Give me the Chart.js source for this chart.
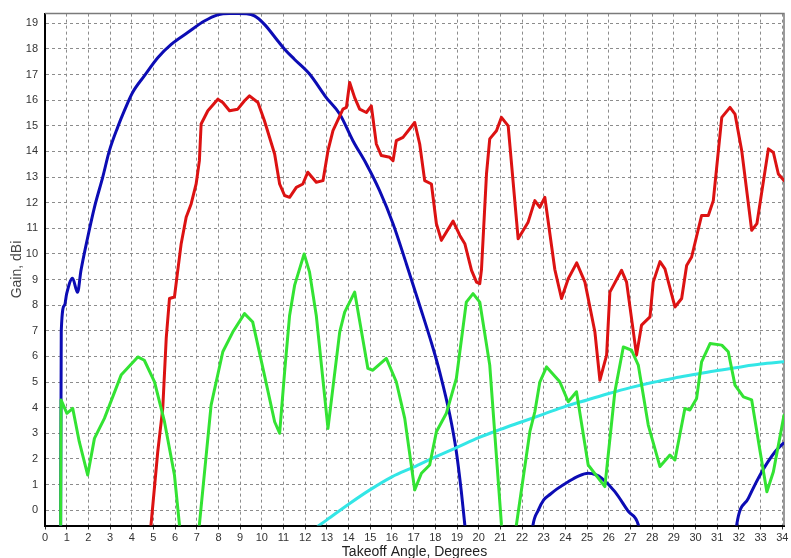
<!DOCTYPE html>
<html>
<head>
<meta charset="utf-8">
<title>Gain vs Takeoff Angle</title>
<script src="https://cdn.jsdelivr.net/npm/chart.js@4.4.1/dist/chart.umd.min.js"></script>
<style>
  html, body { margin: 0; padding: 0; background: #ffffff; }
  #wrap { position: relative; width: 791px; height: 558px; }
</style>
</head>
<body>
<div id="wrap"><canvas id="chart" width="791" height="558"></canvas></div>
<script>
// Elevation-response traces: takeoff angle (degrees) and gain (dBi).
// A null gain breaks the trace where it falls below the plotted range.

const blueAngle = [0.72, 0.75, 0.9, 1.0, 1.27, 1.5, 1.66, 1.97, 2.28, 2.66, 2.97, 3.35, 3.66, 4.04, 4.58, 5.2, 5.82, 6.58, 7.35, 7.97, 8.5, 8.89, 9.3, 9.66, 10.12, 10.74, 11.05, 11.5, 12.2, 12.97, 13.59, 14.2, 14.82, 15.43, 16.05, 16.67, 17.28, 17.9, 18.2, 18.67, 18.97, 19.2, 19.36, 19.42,
  19.5,
  22.45, 22.5, 22.75, 23.0, 23.3, 23.6, 24.13, 24.6, 25.05, 25.4, 25.67, 26.28, 26.9, 27.36, 27.45,
  27.5,
  31.85, 31.9, 32.44, 33.06, 33.67, 34.05];
const blueGain = [-1.0, 7.0, 8.0, 8.45, 9.05, 8.5, 9.36, 10.65, 11.82, 12.99, 14.03, 14.94, 15.59, 16.3, 16.95, 17.66, 18.18, 18.64, 19.09, 19.33, 19.38, 19.38, 19.37, 19.29, 18.96, 18.31, 17.99, 17.6, 17.02, 16.1, 15.46, 14.42, 13.51, 12.47, 11.18, 9.6, 7.99, 6.31, 5.4, 3.71, 2.28, 0.72, -0.57, -1.0,
  null,
  -1.0, -0.6, 0.0, 0.4, 0.62, 0.82, 1.11, 1.33, 1.44, 1.38, 1.25, 0.72, -0.05, -0.57, -1.0,
  null,
  -1.0, -0.57, 0.47, 1.5, 2.28, 2.61];

const redAngle = [4.85, 4.89, 5.2, 5.43, 5.59, 5.74, 5.97, 6.1, 6.28, 6.51, 6.74, 6.97, 7.12, 7.2, 7.51, 7.97, 8.2, 8.51, 8.89, 9.2, 9.43, 9.82, 10.12, 10.59, 10.82, 11.05, 11.28, 11.59, 11.89, 12.12, 12.51, 12.82, 13.05, 13.28, 13.74, 13.9, 14.05, 14.28, 14.51, 14.82, 15.05, 15.28, 15.51, 15.9, 16.05, 16.2, 16.51, 17.05, 17.28, 17.51, 17.82, 18.05, 18.28, 18.82, 19.13, 19.36, 19.67, 19.9, 20.05, 20.13, 20.36, 20.51, 20.82, 21.05, 21.36, 21.82, 22.28, 22.59, 22.82, 23.05, 23.51, 23.82, 24.13, 24.52, 24.9, 25.36, 25.59, 25.9, 26.05, 26.59, 26.82, 27.28, 27.51, 27.9, 28.05, 28.36, 28.59, 29.05, 29.36, 29.59, 29.82, 30.28, 30.59, 30.82, 31.21, 31.59, 31.82, 32.13, 32.59, 32.83, 33.36, 33.59, 33.82, 34.08];
const redGain = [-1.0, -0.57, 2.28, 3.97, 6.7, 8.26, 8.32, 9.2, 10.4, 11.43, 11.95, 12.73, 13.64, 15.07, 15.59, 16.04, 15.91, 15.59, 15.65, 15.98, 16.17, 15.91, 15.2, 13.9, 12.73, 12.28, 12.21, 12.6, 12.73, 13.19, 12.8, 12.86, 14.03, 14.81, 15.65, 15.72, 16.69, 16.1, 15.65, 15.52, 15.78, 14.29, 13.84, 13.77, 13.64, 14.42, 14.55, 15.13, 14.29, 12.86, 12.73, 11.18, 10.53, 11.28, 10.72, 10.4, 9.36, 8.9, 8.84, 9.4, 13.12, 14.49, 14.81, 15.33, 15.0, 10.59, 11.24, 12.08, 11.82, 12.21, 9.4, 8.26, 9.03, 9.65, 8.9, 6.95, 5.07, 6.05, 8.51, 9.36, 8.9, 6.05, 7.22, 7.54, 8.9, 9.7, 9.42, 7.93, 8.26, 9.55, 9.88, 11.5, 11.5, 12.08, 15.33, 15.72, 15.46, 14.03, 10.92, 11.18, 14.1, 13.96, 13.12, 12.86];

const greenAngle = [0.72, 0.74, 1.01, 1.28, 1.58, 1.97, 2.28, 2.74, 3.51, 4.28, 4.58, 5.05, 5.51, 5.97, 6.2, 6.25,
  6.6,
  7.08, 7.12, 7.66, 8.2, 8.66, 9.2, 9.58, 10.12, 10.59, 10.82, 11.05, 11.28, 11.51, 11.95, 12.2, 12.51, 13.05, 13.59, 13.82, 14.28, 14.89, 15.12, 15.74, 16.2, 16.59, 17.05, 17.36, 17.74, 18.05, 18.51, 18.97, 19.43, 19.74, 20.05, 20.51, 21.05, 21.1,
  21.4,
  21.7, 21.74, 22.36, 22.59, 22.82, 23.13, 23.74, 24.13, 24.51, 25.05, 25.82, 26.28, 26.67, 27.05, 27.36, 27.82, 28.36, 28.82, 29.05, 29.51, 29.74, 30.05, 30.28, 30.67, 31.21, 31.51, 31.82, 32.21, 32.59, 32.98, 33.29, 33.59, 34.08];
const greenGain = [-1.0, 4.3, 3.78, 3.97, 2.67, 1.37, 2.8, 3.58, 5.27, 5.98, 5.85, 5.01, 3.45, 1.37, -0.57, -1.0,
  null,
  -1.0, -0.57, 4.1, 6.18, 6.95, 7.67, 7.34, 5.27, 3.45, 3.0, 5.4, 7.6, 8.77, 10.0, 9.29, 7.6, 3.19, 6.95, 7.73, 8.51, 5.53, 5.46, 5.92, 5.01, 3.58, 0.79, 1.44, 1.76, 3.06, 3.78, 5.14, 8.12, 8.45, 8.12, 5.66, -0.57, -1.0,
  null,
  -1.0, -0.57, 3.06, 3.84, 5.0, 5.59, 5.01, 4.23, 4.62, 1.76, 0.92, 4.62, 6.37, 6.24, 5.66, 3.32, 1.7, 2.15, 1.96, 3.97, 3.91, 4.36, 5.79, 6.5, 6.44, 6.18, 4.88, 4.42, 4.3, 2.28, 0.72, 1.5, 3.7];

const cyanAngle = [12.6, 13, 14, 15, 16, 17, 18, 19, 20, 21, 22, 23, 24, 25, 26, 27, 28, 29, 30, 31, 32, 33, 34.08];
const cyanGain = [-0.62, -0.38, 0.23, 0.8, 1.3, 1.68, 2.08, 2.45, 2.83, 3.15, 3.45, 3.75, 4.05, 4.3, 4.55, 4.78, 4.98, 5.15, 5.3, 5.45, 5.58, 5.7, 5.79];

const xTickStep = 1;
const yTickStep = 1;

function toPoints(angles, gains) {
  return angles.map((a, i) => ({ x: a, y: gains[i] }));
}

const FONT = "'Liberation Sans', Arial, 'DejaVu Sans', sans-serif";

// Thin grey frame on the top and right edges of the plot area.
const frameEdges = {
  id: 'frameEdges',
  beforeDatasetsDraw(chart) {
    const { ctx, chartArea: a } = chart;
    ctx.save();
    ctx.strokeStyle = '#7a7a7a';
    ctx.lineWidth = 1.5;
    ctx.beginPath();
    ctx.moveTo(a.left, a.top);
    ctx.lineTo(a.right, a.top);
    ctx.lineTo(a.right, a.bottom);
    ctx.stroke();
    ctx.restore();
  }
};

const lineStyle = (color) => ({
  borderColor: color,
  backgroundColor: color,
  borderWidth: 3,
  pointRadius: 0,
  pointHoverRadius: 0,
  fill: false,
  spanGaps: false,
  borderJoinStyle: 'round',
  borderCapStyle: 'round',
  clip: 0
});

new Chart(document.getElementById('chart'), {
  type: 'line',
  data: {
    datasets: [
      Object.assign({ label: 'Green', data: toPoints(greenAngle, greenGain), tension: 0 }, lineStyle('#33e333')),
      Object.assign({ label: 'Red', data: toPoints(redAngle, redGain), tension: 0 }, lineStyle('#dc1212')),
      Object.assign({ label: 'Cyan', data: toPoints(cyanAngle, cyanGain), cubicInterpolationMode: 'monotone' }, lineStyle('#33e6e6')),
      Object.assign({ label: 'Blue', data: toPoints(blueAngle, blueGain), cubicInterpolationMode: 'monotone' }, lineStyle('#0c0cb4'))
    ]
  },
  options: {
    responsive: false,
    animation: false,
    devicePixelRatio: 1,
    layout: { padding: { left: 0, right: 7, top: 12.5, bottom: 0 } },
    plugins: {
      legend: { display: false },
      tooltip: { enabled: false },
      title: { display: false }
    },
    scales: {
      x: {
        type: 'linear',
        min: 0,
        max: 34.08,
        afterFit(scale) { scale.height = 32.5; },
        ticks: {
          stepSize: xTickStep,
          includeBounds: false,
          autoSkip: false,
          maxRotation: 0,
          minRotation: 0,
          padding: 2,
          color: '#333333',
          font: { family: FONT, size: 11 }
        },
        grid: {
          color: '#8c8c8c',
          lineWidth: 1,
          drawTicks: true,
          tickLength: 4,
          tickColor: '#333333',
          tickWidth: 1
        },
        border: { display: true, color: '#000000', width: 2, dash: [3, 3] },
        title: {
          display: true,
          text: 'Takeoff Angle, Degrees',
          color: '#222222',
          font: { family: FONT, size: 14 },
          padding: { top: 0, bottom: -3 }
        }
      },
      y: {
        type: 'linear',
        min: -0.6,
        max: 19.38,
        afterFit(scale) { scale.width = 45; },
        ticks: {
          stepSize: yTickStep,
          includeBounds: false,
          padding: 7,
          color: '#333333',
          font: { family: FONT, size: 11 }
        },
        grid: {
          color: '#8c8c8c',
          lineWidth: 1,
          drawTicks: false
        },
        border: { display: true, color: '#000000', width: 2, dash: [3, 3] },
        title: {
          display: true,
          text: 'Gain, dBi',
          color: '#444444',
          font: { family: FONT, size: 14 },
          padding: { top: 9, bottom: 0 }
        }
      }
    }
  },
  plugins: [frameEdges]
});
</script>
</body>
</html>
